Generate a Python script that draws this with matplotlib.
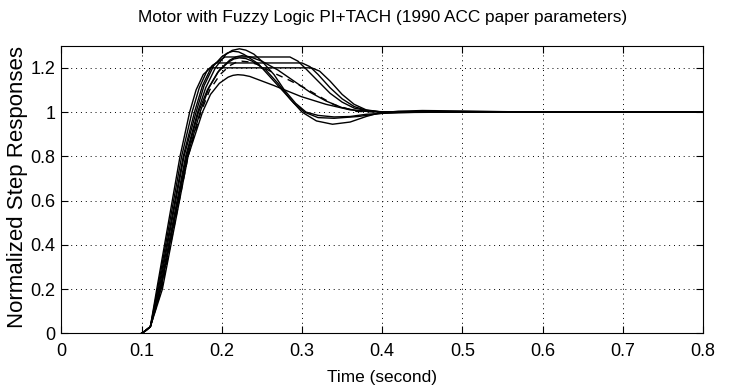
import matplotlib
matplotlib.use("Agg")
import matplotlib.pyplot as plt

plt.rcParams['font.family'] = ['Liberation Sans', 'DejaVu Sans']

# step responses (time in s, normalized output)
t_s1 = [0.1, 0.105, 0.111, 0.119, 0.148, 0.160, 0.168, 0.177, 0.186, 0.312, 0.322, 0.335, 0.35, 0.365, 0.38, 0.40, 0.8]
v_s1 = [0, 0.012, 0.03, 0.20, 0.80, 1.00, 1.10, 1.17, 1.20, 1.20, 1.185, 1.14, 1.08, 1.035, 1.01, 1.0, 1.0]

t_s2 = [0.1, 0.105, 0.111, 0.12, 0.15, 0.163, 0.172, 0.182, 0.193, 0.30, 0.31, 0.32, 0.335, 0.35, 0.365, 0.38, 0.40, 0.8]
v_s2 = [0, 0.012, 0.03, 0.20, 0.80, 1.00, 1.11, 1.19, 1.222, 1.222, 1.205, 1.17, 1.11, 1.06, 1.025, 1.008, 1.0, 1.0]

t_s3 = [0.1, 0.105, 0.111, 0.121, 0.152, 0.166, 0.176, 0.188, 0.204, 0.285, 0.295, 0.305, 0.32, 0.335, 0.35, 0.365, 0.385, 0.41, 0.8]
v_s3 = [0, 0.012, 0.03, 0.20, 0.80, 1.00, 1.12, 1.21, 1.249, 1.249, 1.23, 1.195, 1.14, 1.085, 1.045, 1.018, 1.004, 1.0, 1.0]

t_p1 = [0.1, 0.105, 0.111, 0.123, 0.155, 0.170, 0.18, 0.192, 0.205, 0.213, 0.222, 0.23, 0.24, 0.25, 0.265, 0.278, 0.292, 0.305, 0.32, 0.34, 0.36, 0.38, 0.42, 0.5, 0.8]
v_p1 = [0, 0.012, 0.03, 0.20, 0.80, 1.00, 1.11, 1.20, 1.26, 1.279, 1.286, 1.28, 1.262, 1.23, 1.17, 1.10, 1.04, 1.0, 0.985, 0.978, 0.98, 0.99, 0.998, 1.0, 1.0]

t_p2 = [0.1, 0.105, 0.111, 0.122, 0.153, 0.168, 0.178, 0.19, 0.2, 0.207, 0.214, 0.221, 0.228, 0.245, 0.26, 0.275, 0.29, 0.303, 0.32, 0.34, 0.37, 0.40, 0.45, 0.8]
v_p2 = [0, 0.012, 0.03, 0.20, 0.80, 1.00, 1.12, 1.21, 1.25, 1.267, 1.275, 1.272, 1.26, 1.22, 1.16, 1.10, 1.04, 1.0, 0.975, 0.972, 0.98, 0.995, 1.0, 1.0]

t_p3 = [0.1, 0.105, 0.111, 0.124, 0.156, 0.171, 0.182, 0.195, 0.208, 0.215, 0.222, 0.23, 0.238, 0.255, 0.27, 0.285, 0.30, 0.318, 0.338, 0.36, 0.38, 0.395, 0.42, 0.45, 0.5, 0.55, 0.6, 0.8]
v_p3 = [0, 0.012, 0.03, 0.20, 0.80, 1.00, 1.10, 1.18, 1.225, 1.24, 1.245, 1.242, 1.23, 1.19, 1.13, 1.06, 1.0, 0.96, 0.945, 0.955, 0.98, 0.995, 1.004, 1.007, 1.005, 1.002, 1.0, 1.0]

t_p4 = [0.1, 0.105, 0.111, 0.124, 0.157, 0.173, 0.184, 0.197, 0.21, 0.218, 0.225, 0.235, 0.25, 0.27, 0.29, 0.31, 0.33, 0.35, 0.37, 0.4, 0.8]
v_p4 = [0, 0.012, 0.03, 0.20, 0.80, 1.00, 1.11, 1.19, 1.235, 1.25, 1.255, 1.25, 1.23, 1.19, 1.14, 1.09, 1.05, 1.02, 1.005, 1.0, 1.0]

t_p5 = [0.1, 0.105, 0.111, 0.126, 0.158, 0.176, 0.186, 0.197, 0.208, 0.214, 0.22, 0.227, 0.235, 0.265, 0.299, 0.33, 0.36, 0.40, 0.8]
v_p5 = [0, 0.012, 0.03, 0.20, 0.80, 1.00, 1.08, 1.13, 1.158, 1.166, 1.169, 1.167, 1.161, 1.12, 1.07, 1.035, 1.01, 1.0, 1.0]

# the dashed one
t_dash = [0.1, 0.105, 0.111, 0.125, 0.158, 0.174, 0.185, 0.198, 0.21, 0.218, 0.225, 0.233, 0.245, 0.264, 0.283, 0.303, 0.322, 0.34, 0.368, 0.4, 0.8]
v_dash = [0, 0.012, 0.03, 0.20, 0.80, 1.00, 1.10, 1.17, 1.21, 1.225, 1.23, 1.227, 1.215, 1.178, 1.146, 1.11, 1.07, 1.033, 1.003, 1.0, 1.0]

xticks = [0, 0.1, 0.2, 0.3, 0.4, 0.5, 0.6, 0.7, 0.8]
yticks = [0, 0.2, 0.4, 0.6, 0.8, 1, 1.2]

fig = plt.figure(figsize=(7.34, 3.92), dpi=100)
ax = fig.add_axes([0.0835, 0.1497, 0.8745, 0.7337])

solid = [(t_s1, v_s1), (t_s2, v_s2), (t_s3, v_s3), (t_p1, v_p1),
         (t_p2, v_p2), (t_p3, v_p3), (t_p4, v_p4), (t_p5, v_p5)]
for tt, vv in solid:
    ax.plot(tt, vv, color='black', lw=1.0)
ax.plot(t_dash, v_dash, color='black', lw=1.0, linestyle=(0, (5, 4)))

ax.set_xlim(0, 0.8)
ax.set_ylim(0, 1.3)
ax.set_xticks(xticks)
ax.set_xticklabels(['0', '0.1', '0.2', '0.3', '0.4', '0.5', '0.6', '0.7', '0.8'])
ax.set_yticks(yticks)
ax.set_yticklabels(['0', '0.2', '0.4', '0.6', '0.8', '1', '1.2'])
ax.grid(True, color='black', linestyle=(0, (1, 4)), lw=0.7)
ax.tick_params(direction='in', top=True, right=True, length=5, width=0.8, labelsize=13)
ax.tick_params(axis='x', pad=7)
ax.tick_params(axis='y', pad=4)
for sp in ax.spines.values():
    sp.set_linewidth(0.8)

ax.set_title('Motor with Fuzzy Logic PI+TACH (1990 ACC paper parameters)', fontsize=12.4, pad=17)
ax.set_xlabel('Time (second)', fontsize=12.4, labelpad=7)
ax.set_ylabel('Normalized Step Responses', fontsize=16)
ax.yaxis.set_label_coords(-0.052, 0.51)

fig.savefig('out.png', dpi=100)
